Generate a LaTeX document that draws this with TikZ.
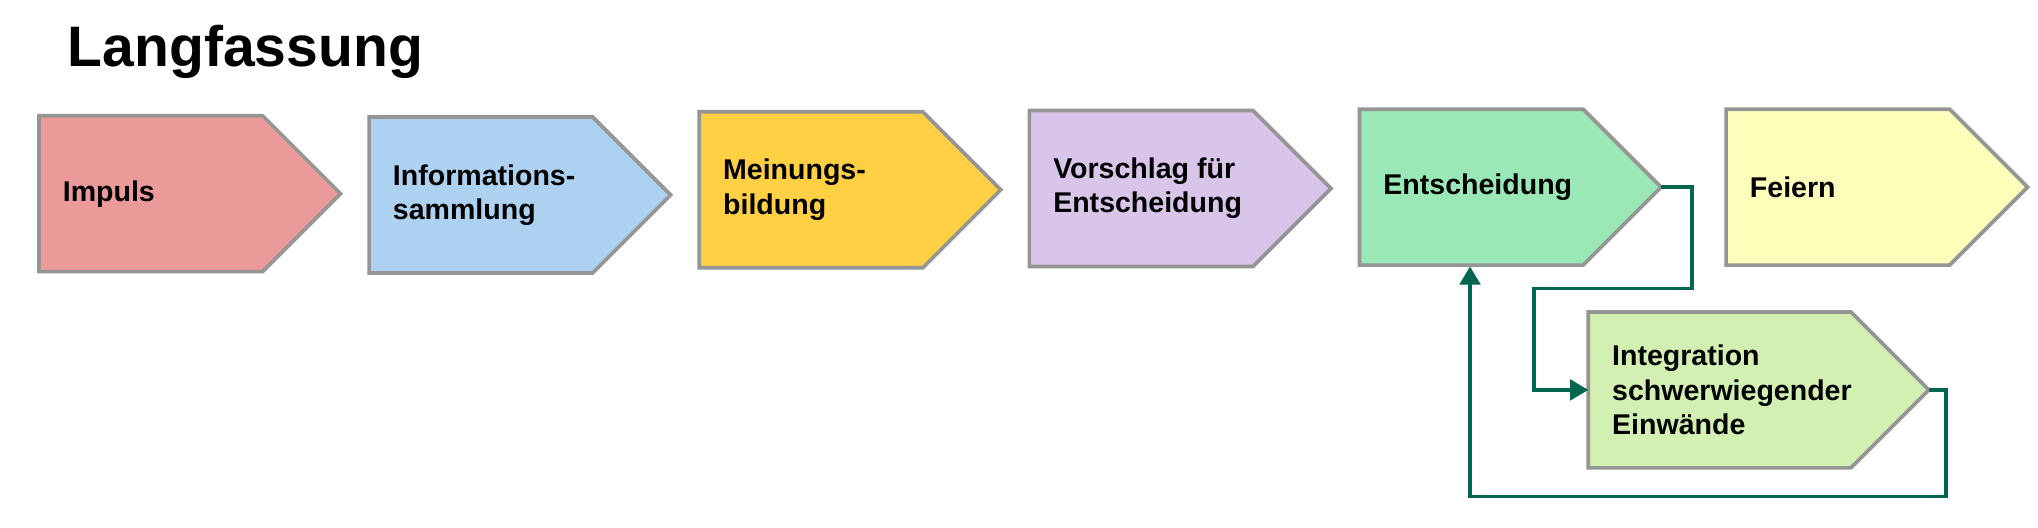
\documentclass[tikz,border=0pt]{standalone}
\usepackage{fontspec}
\setmainfont{Liberation Sans}
\usetikzlibrary{arrows.meta}

\definecolor{rimgray}{HTML}{959595}
\definecolor{flowgreen}{HTML}{00664F}
\definecolor{impulsred}{HTML}{EB9999}
\definecolor{infoblue}{HTML}{ADD2F1}
\definecolor{meinungyellow}{HTML}{FFD043}
\definecolor{vorschlaglila}{HTML}{D9C4EA}
\definecolor{entscheidgreen}{HTML}{99E8B5}
\definecolor{feiernyellow}{HTML}{FFFDBA}
\definecolor{integrgreen}{HTML}{D1F0B1}

\tikzset{
  phasebox/.style={draw=rimgray, line width=1.6pt, line join=miter},
  phaselabel/.style={anchor=west, align=left, font=\bfseries\fontsize{12.5}{15}\selectfont, inner sep=0pt},
  loopline/.style={draw=flowgreen, line width=1.6pt, -{Triangle[length=8pt,width=9pt]}}
}

% #1 name, #2 left x, #3 top y, #4 body length, #5 fill, #6 text
\newcommand{\phase}[6]{%
  \draw[phasebox, fill=#5] (#2,-#3) -- ++(#4,0) -- ++(60,-60) -- ++(-60,-60) -- ++(-#4,0) -- cycle;
  \node[phaselabel] (#1) at (#2+18,-#3-60) {#6};
  \coordinate (#1-tip) at (#2+#4+60,-#3-60);
}

\begin{document}
\begin{tikzpicture}[x=0.02cm, y=0.02cm]
  \useasboundingbox (0,0) rectangle (1568,-406);

  % Title
  \node[anchor=west, font=\bfseries\fontsize{25}{30}\selectfont] (title) at (46,-40) {Langfassung};

  % Phases
  \phase{impuls}{30}{89}{172}{impulsred}{Impuls}
  \phase{info}{284}{90}{172}{infoblue}{Informations-\\sammlung}
  \phase{meinung}{538}{86}{172}{meinungyellow}{Meinungs-\\bildung}
  \phase{vorschlag}{792}{85}{172}{vorschlaglila}{Vorschlag für\\Entscheidung}
  \phase{entscheid}{1046}{84}{172}{entscheidgreen}{Entscheidung}
  \phase{feiern}{1328}{84}{172}{feiernyellow}{Feiern}
  \phase{integr}{1222}{240}{202}{integrgreen}{Integration\\schwerwiegender\\Einwände}

  \coordinate (integr-in) at (1222,-300);
  \coordinate (entscheid-bottom) at (1131,-205);

  % Loop
  \draw[loopline] (entscheid-tip) -| (1302,-222) -| (1180,-300) -- (integr-in);
  \draw[loopline] (integr-tip) -| (1497,-382) -| (entscheid-bottom);
\end{tikzpicture}
\end{document}
